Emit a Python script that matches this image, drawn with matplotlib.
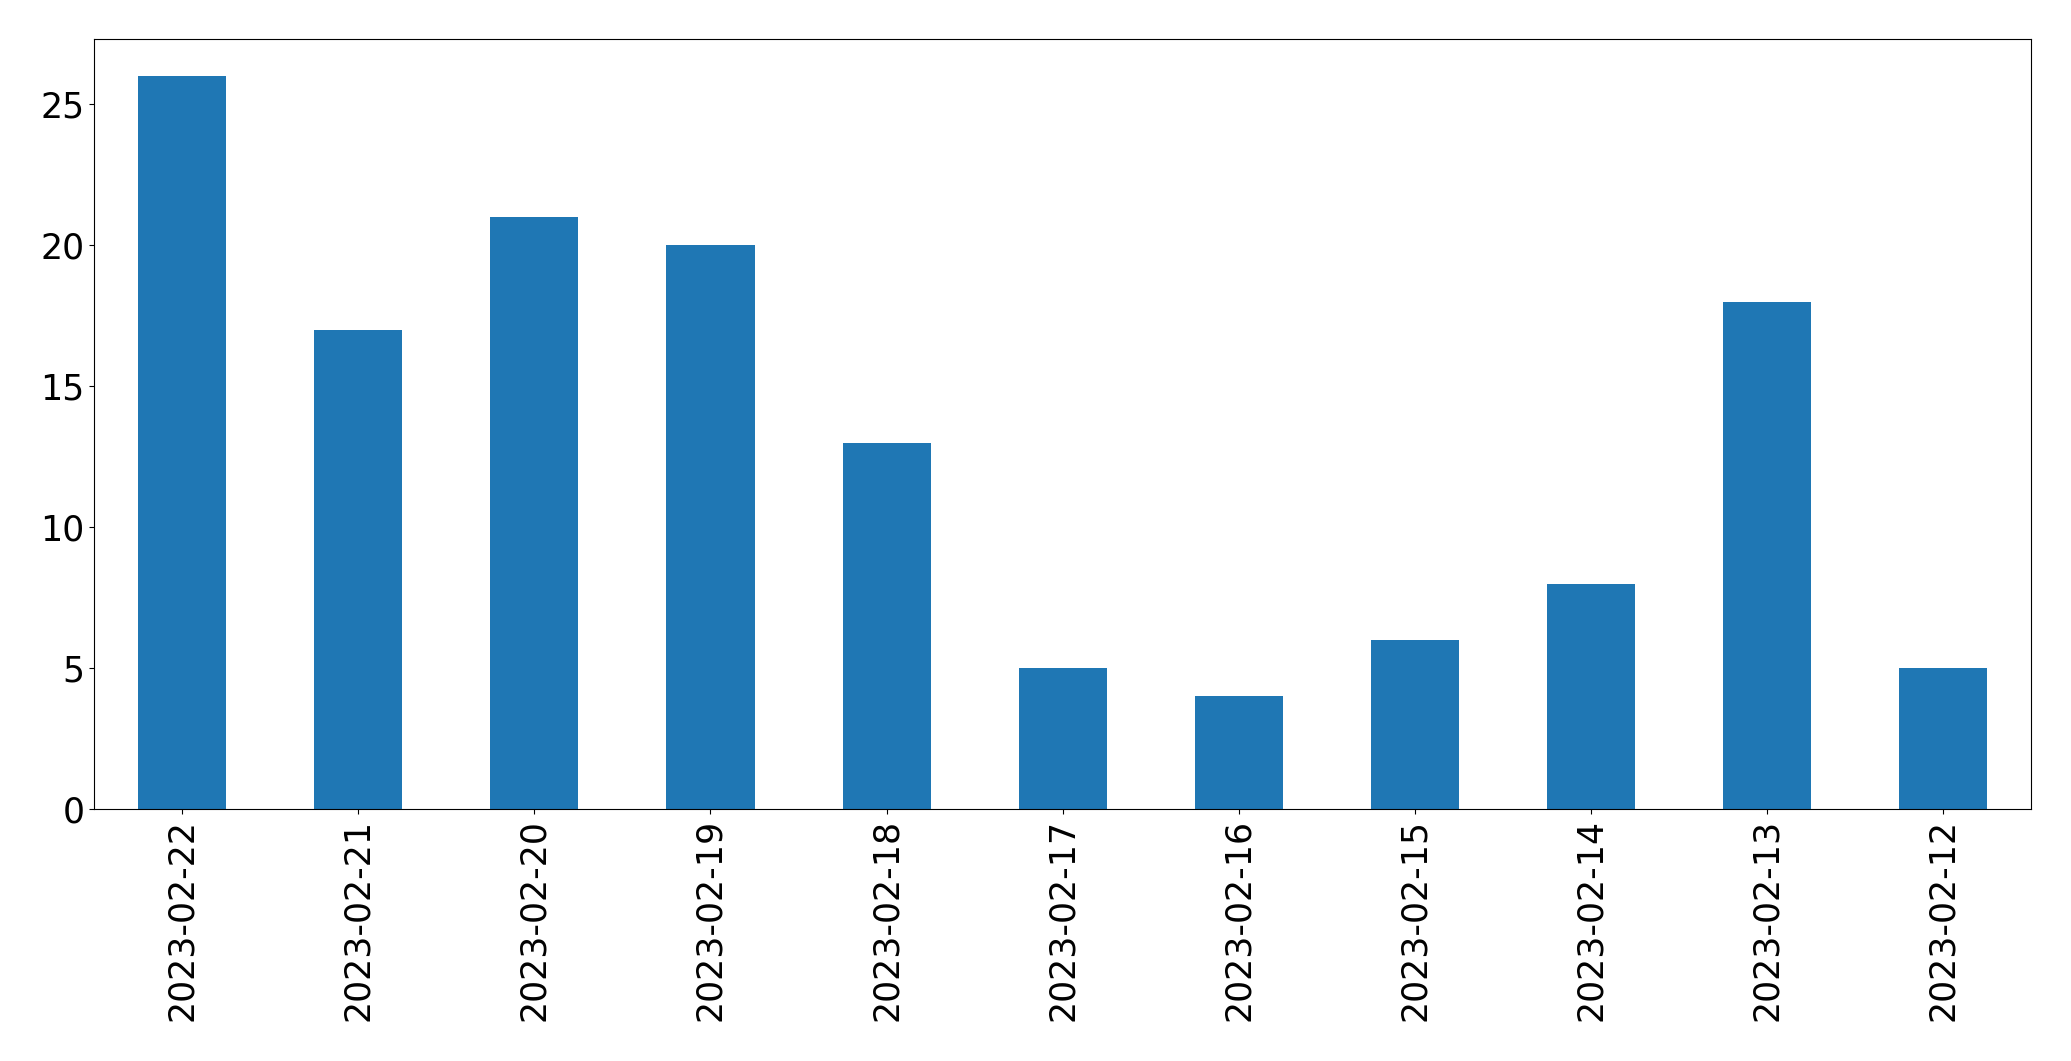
import pandas as pd
import matplotlib
matplotlib.use("Agg")
import matplotlib.pyplot as plt

# daily counts, newest first
dates = ["2023-02-22", "2023-02-21", "2023-02-20", "2023-02-19", "2023-02-18",
         "2023-02-17", "2023-02-16", "2023-02-15", "2023-02-14", "2023-02-13",
         "2023-02-12"]
counts = [26, 17, 21, 20, 13, 5, 4, 6, 8, 18, 5]

s = pd.Series(counts, index=dates)

fig, ax = plt.subplots(figsize=(20.71, 10.61), dpi=100)
s.plot(kind="bar", ax=ax, color="#1f77b4", width=0.5)
ax.tick_params(axis="both", labelsize=25)
fig.subplots_adjust(left=0.0455, right=0.9807, top=0.963, bottom=0.2372)

fig.savefig("out.png", dpi=100)
